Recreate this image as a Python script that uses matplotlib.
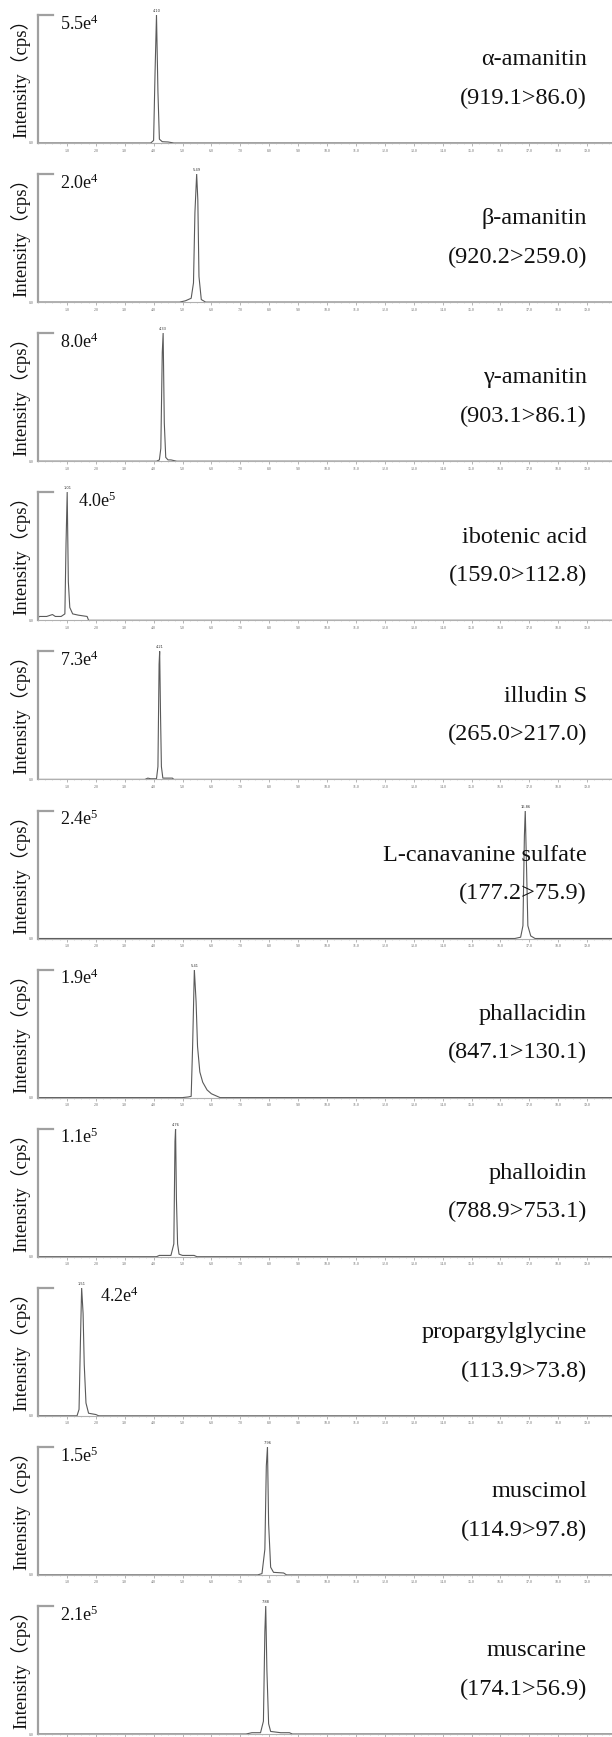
import numpy as np
import matplotlib
matplotlib.use('Agg')
import matplotlib.pyplot as plt

plt.rcParams['font.family'] = ['Liberation Serif', 'Noto Sans CJK SC', 'DejaVu Sans']
plt.rcParams['mathtext.fontset'] = 'custom'
plt.rcParams['mathtext.rm'] = 'Liberation Serif'
plt.rcParams['mathtext.it'] = 'Liberation Serif:italic'

# compound names and MRM transitions
names = ['α-amanitin', 'β-amanitin', 'γ-amanitin', 'ibotenic acid', 'illudin S',
         'L-canavanine sulfate', 'phallacidin', 'phalloidin', 'propargylglycine',
         'muscimol', 'muscarine']
transitions = ['(919.1>86.0)', '(920.2>259.0)', '(903.1>86.1)', '(159.0>112.8)',
               '(265.0>217.0)', '(177.2>75.9)', '(847.1>130.1)', '(788.9>753.1)',
               '(113.9>73.8)', '(114.9>97.8)', '(174.1>56.9)']
# max intensity of each trace (cps)
max_int = ['5.5e$^{4}$', '2.0e$^{4}$', '8.0e$^{4}$', '4.0e$^{5}$', '7.3e$^{4}$',
           '2.4e$^{5}$', '1.9e$^{4}$', '1.1e$^{5}$', '4.2e$^{4}$', '1.5e$^{5}$', '2.1e$^{5}$']
# retention time label of the apex
rt_labels = ['4.10', '5.49', '4.33', '1.01', '4.21', '16.86', '5.41', '4.76', '1.51', '7.96', '7.88']

# traces: time (min) and intensity (% of max)
t_alpha = [0, 3.9, 4.0, 4.05, 4.10, 4.15, 4.2, 4.3, 4.5, 4.7, 19.9]
y_alpha = [0, 0, 2, 55, 100, 40, 3, 1, 0.8, 0, 0]
t_beta = [0, 4.9, 5.1, 5.3, 5.38, 5.43, 5.49, 5.53, 5.57, 5.65, 5.8, 19.9]
y_beta = [0, 0, 1, 3, 15, 70, 100, 80, 20, 2, 0, 0]
t_gamma = [0, 4.1, 4.2, 4.25, 4.3, 4.33, 4.37, 4.42, 4.5, 4.6, 4.8, 19.9]
y_gamma = [0, 0, 1, 10, 85, 100, 30, 3, 1, 1, 0, 0]
t_ibo = [0, 0.05, 0.3, 0.5, 0.6, 0.8, 0.93, 0.97, 1.01, 1.05, 1.1, 1.2, 1.4, 1.7, 1.75, 19.9]
y_ibo = [2, 3, 3, 4.5, 3, 3, 5, 60, 100, 30, 10, 5, 4, 3, 0, 0]
t_illu = [0, 3.7, 3.8, 3.9, 4.1, 4.15, 4.19, 4.21, 4.24, 4.27, 4.32, 4.5, 4.65, 4.7, 19.9]
y_illu = [0, 0, 1, 0.5, 0.5, 10, 90, 100, 50, 10, 1, 1, 1, 0, 0]
t_cana = [0, 16.5, 16.7, 16.78, 16.83, 16.86, 16.9, 16.95, 17.05, 17.2, 19.9]
y_cana = [0, 0, 1, 10, 80, 100, 60, 10, 2, 0, 0]
t_phac = [0, 5.0, 5.2, 5.3, 5.35, 5.41, 5.47, 5.52, 5.6, 5.7, 5.85, 6.0, 6.2, 6.3, 19.9]
y_phac = [0, 0, 0.5, 1, 40, 100, 75, 40, 20, 12, 6, 3, 1, 0, 0]
t_phal = [0, 4.1, 4.2, 4.6, 4.7, 4.74, 4.76, 4.79, 4.83, 4.88, 5.0, 5.4, 5.5, 19.9]
y_phal = [0, 0, 1, 1, 10, 90, 100, 45, 10, 2, 1, 1, 0, 0]
t_prop = [0, 1.35, 1.42, 1.47, 1.51, 1.56, 1.6, 1.66, 1.75, 2.0, 2.1, 19.9]
y_prop = [0, 0, 5, 60, 100, 80, 40, 10, 2, 1, 0, 0]
t_musc = [0, 7.6, 7.75, 7.85, 7.9, 7.94, 7.98, 8.05, 8.15, 8.5, 8.6, 19.9]
y_musc = [0, 0, 1, 20, 85, 100, 40, 6, 2, 1.5, 0, 0]
t_mus2 = [0, 7.2, 7.4, 7.7, 7.8, 7.85, 7.88, 7.92, 7.98, 8.05, 8.4, 8.7, 8.8, 19.9]
y_mus2 = [0, 0, 1, 1, 10, 80, 100, 50, 8, 2, 1, 1, 0, 0]

times = [t_alpha, t_beta, t_gamma, t_ibo, t_illu, t_cana, t_phac, t_phal, t_prop, t_musc, t_mus2]
intens = [y_alpha, y_beta, y_gamma, y_ibo, y_illu, y_cana, y_phac, y_phal, y_prop, y_musc, y_mus2]

W, H = 612, 1737
fig = plt.figure(figsize=(W / 100, H / 100), dpi=100)

x0 = 38          # y-axis position in px
px_per_min = 28.9
ax_w = W - x0
ax_h = 128
base0 = 143
step = 159.1
# x position of the scale label (px)
scale_x = [60, 60, 60, 78, 60, 60, 60, 60, 100, 60, 60]

for i in range(11):
    base = base0 + step * i
    ax = fig.add_axes([x0 / W, (H - base) / H, ax_w / W, ax_h / H])
    ax.plot(times[i], intens[i], color='#5a5a5a', lw=0.8)
    ax.set_xlim(0, ax_w / px_per_min)
    ax.set_ylim(0, 100)
    for s in ['top', 'right']:
        ax.spines[s].set_visible(False)
    ax.spines['left'].set_color('#a0a0a0')
    ax.spines['left'].set_linewidth(1.6)
    ax.spines['bottom'].set_color('#b0b0b0')
    ax.spines['bottom'].set_linewidth(0.8)
    ax.axhline(100, xmin=0, xmax=15 / ax_w, color='#a0a0a0', lw=1.6, clip_on=False)

    ax.set_xticks(np.arange(1, 20, 1.0))
    if i < 10:
        ax.set_xticklabels(['%.1f' % v for v in np.arange(1, 20, 1.0)])
    else:
        # the last row's tick labels fall off the bottom edge in the original
        ax.set_xticklabels([])
    ax.set_xticks(np.arange(0, 20, 0.25), minor=True)
    ax.tick_params(axis='x', which='major', length=2, width=0.5, color='#999999',
                   labelsize=2.8, labelcolor='#666666', pad=2)
    ax.tick_params(axis='x', which='minor', length=1, width=0.4, color='#bbbbbb')
    ax.set_yticks([0])
    ax.set_yticklabels(['0.0'])
    ax.tick_params(axis='y', length=0, labelsize=2.8, labelcolor='#666666', pad=3)
    ax.patch.set_alpha(0)

    # apex label
    k = int(np.argmax(intens[i]))
    ax.text(times[i][k], 101.5, rt_labels[i], fontsize=2.6, color='#333333',
            ha='center', va='bottom', family='DejaVu Sans', clip_on=False)

    ax.text((scale_x[i] - x0) / ax_w, 0.93, max_int[i], transform=ax.transAxes,
            fontsize=13, ha='left', va='center', color='#111111')
    ax.text((587 - x0) / ax_w, 0.65, names[i], transform=ax.transAxes,
            fontsize=17.5, ha='right', va='center', color='#111111')
    ax.text((587 - x0) / ax_w, 0.35, transitions[i], transform=ax.transAxes,
            fontsize=17.5, ha='right', va='center', color='#111111')
    ax.text((20 - x0) / ax_w, 0.54, 'Intensity（cps）', transform=ax.transAxes,
            fontsize=13.5, rotation=90, ha='center', va='center', color='#111111',
            clip_on=False)

fig.savefig('out.png', dpi=100)
